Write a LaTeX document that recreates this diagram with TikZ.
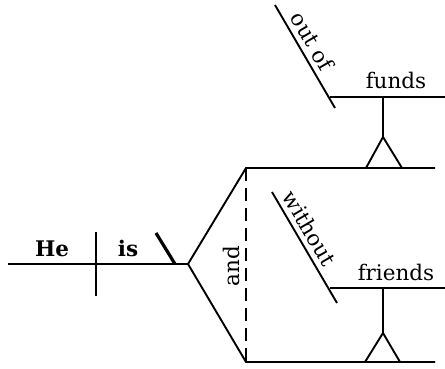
\documentclass[tikz,border=0pt]{standalone}
\usepackage{fontspec}
\setmainfont{DejaVu Serif}
\begin{document}
\begin{tikzpicture}[x=1pt,y=-1pt,
  ln/.style={line width=1.9pt},
  thick slant/.style={line width=3.2pt},
  word/.style={font=\fontsize{21.5}{26}\selectfont, inner sep=0pt, anchor=base},
  boldword/.style={word, font=\fontsize{21.5}{26}\selectfont\bfseries}]
\useasboundingbox (0,0) rectangle (445,368);
% main line
\coordinate (m0) at (8,264);
\coordinate (fork) at (188,264);
\coordinate (d0) at (96,232);
\coordinate (d1) at (96,296);
\coordinate (s0) at (156,233);
\coordinate (s1) at (175,264);
\draw[ln] (m0) -- (fork);
\draw[ln] (d0) -- (d1);
\draw[thick slant] (s0) -- (s1);
\node[boldword] (he) at (52,256) {He};
\node[boldword] (is) at (128,256) {is};
% fork
\coordinate (ut) at (246,168);
\coordinate (lt) at (246,362);
\coordinate (ue) at (435,168);
\coordinate (le) at (435,362);
\draw[ln] (fork) -- (ut) -- (ue);
\draw[ln] (fork) -- (lt) -- (le);
\draw[ln, dash pattern=on 13pt off 7pt] (ut) -- (lt);
\node[word, anchor=center, rotate=90] (and) at (231,266) {and};
% upper
\coordinate (up0) at (330,97);
\coordinate (up1) at (445,97);
\coordinate (us0) at (275,5);
\coordinate (us1) at (335,108);
\coordinate (ust) at (383,97);
\coordinate (uap) at (383,137);
\coordinate (ub0) at (366,168);
\coordinate (ub1) at (402,168);
\draw[ln] (up0) -- (up1);
\draw[ln] (us0) -- (us1)
  node[word, pos=0.42, sloped, anchor=south, yshift=5pt] (outof) {out of};
\draw[ln] (ust) -- (uap);
\draw[ln] (ub0) -- (uap) -- (ub1);
\node[word] (funds) at (396,88) {funds};
% lower
\coordinate (lp0) at (330,288);
\coordinate (lp1) at (445,288);
\coordinate (ls0) at (272,192);
\coordinate (ls1) at (337,303);
\coordinate (lst) at (383,288);
\coordinate (lap) at (383,333);
\coordinate (lb0) at (365,362);
\coordinate (lb1) at (400,362);
\draw[ln] (lp0) -- (lp1);
\draw[ln] (ls0) -- (ls1)
  node[word, pos=0.39, sloped, anchor=south, yshift=5pt] (without) {without};
\draw[ln] (lst) -- (lap);
\draw[ln] (lb0) -- (lap) -- (lb1);
\node[word] (friends) at (396,280) {friends};
\end{tikzpicture}
\end{document}
